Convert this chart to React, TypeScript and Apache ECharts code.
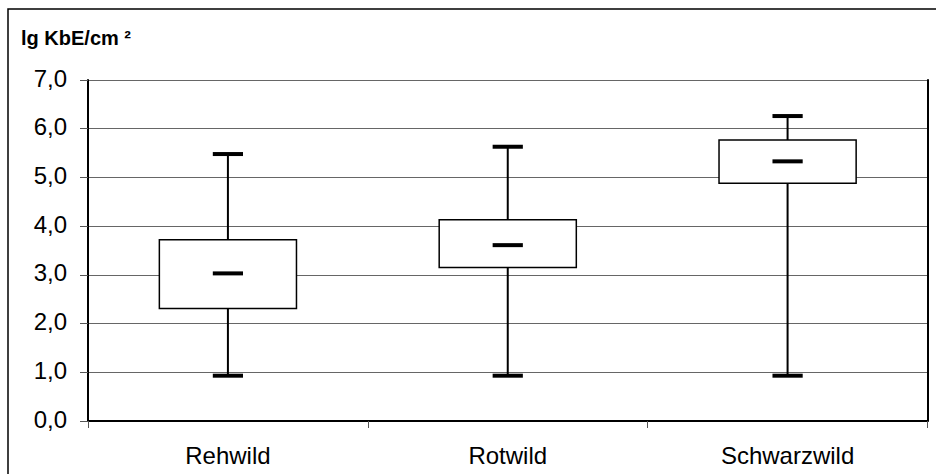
import React, { useEffect, useRef } from "react";
import * as echarts from "echarts";

const categories = ["Rehwild", "Rotwild", "Schwarzwild"];
const minValues = [0.93, 0.93, 0.93];
const q1Values = [2.31, 3.15, 4.88];
const medianValues = [3.03, 3.61, 5.33];
const q3Values = [3.72, 4.13, 5.77];
const maxValues = [5.48, 5.63, 6.26];
const yTicks = [0, 1, 2, 3, 4, 5, 6, 7];
const yAxisTitle = "lg KbE/cm ²";

export default function App() {
  const ref = useRef<HTMLDivElement>(null);
  useEffect(() => {
    document.body.style.margin = "0";
    if (!ref.current) return;
    const chart = echarts.init(ref.current, undefined, { renderer: "svg" });
    const data = categories.map((_, i) => [
      i,
      minValues[i],
      q1Values[i],
      medianValues[i],
      q3Values[i],
      maxValues[i],
    ]);
    const font = "'Liberation Sans', Arial, sans-serif";
    chart.setOption({
      animation: false,
      backgroundColor: "#fff",
      graphic: [
        {
          type: "rect",
          shape: { x: 8, y: 9, width: 1000, height: 1000 },
          style: { fill: "none", stroke: "#000", lineWidth: 1.5 },
          silent: true,
          z: 100,
        },
        {
          type: "text",
          left: 21,
          top: 28,
          style: {
            text: yAxisTitle,
            font: `bold 20px ${font}`,
            fill: "#000",
          },
        },
      ],
      grid: { left: 88, top: 80, right: 8.5, bottom: 53 },
      xAxis: {
        type: "category",
        data: categories,
        axisLine: { show: true, lineStyle: { color: "#000", width: 2 } },
        axisTick: { show: true, alignWithLabel: false, length: 7, lineStyle: { color: "#555", width: 1 } },
        axisLabel: { color: "#000", fontSize: 24, fontFamily: font, margin: 22 },
        splitLine: { show: false },
      },
      yAxis: [
        {
          type: "value",
          min: 0,
          max: 7,
          interval: 1,
          axisLine: { show: true, lineStyle: { color: "#000", width: 2 } },
          axisTick: { show: true, length: 8, lineStyle: { color: "#555", width: 1 } },
          axisLabel: {
            color: "#000",
            fontSize: 24,
            fontFamily: font,
            margin: 21,
            verticalAlign: "bottom",
            lineHeight: 24,
            padding: [0, 0, -10, 0],
            formatter: (v: number) =>
              yTicks.includes(v) ? v.toFixed(1).replace(".", ",") : "",
          },
          splitLine: { show: true, lineStyle: { color: "#666", width: 1 } },
        },
        {
          type: "value",
          position: "right",
          min: 0,
          max: 7,
          interval: 1,
          axisLine: { show: true, lineStyle: { color: "#000", width: 2 } },
          axisTick: { show: false },
          axisLabel: { show: false },
          splitLine: { show: false },
        },
      ],
      series: [
        {
          type: "custom",
          data,
          encode: { x: 0, y: [1, 2, 3, 4, 5] },
          renderItem: (params: any, api: any) => {
            const idx = api.value(0);
            const pMin = api.coord([idx, api.value(1)]);
            const pQ1 = api.coord([idx, api.value(2)]);
            const pMed = api.coord([idx, api.value(3)]);
            const pQ3 = api.coord([idx, api.value(4)]);
            const pMax = api.coord([idx, api.value(5)]);
            const band = api.size([1, 0])[0];
            const bw = band * 0.49;
            const cw = band * 0.108;
            const x = pMed[0];
            return {
              type: "group",
              children: [
                {
                  type: "line",
                  shape: { x1: x, y1: pMax[1], x2: x, y2: pMin[1] },
                  style: { stroke: "#000", lineWidth: 2 },
                },
                {
                  type: "rect",
                  shape: { x: x - bw / 2, y: pQ3[1], width: bw, height: pQ1[1] - pQ3[1] },
                  style: { fill: "#fff", stroke: "#000", lineWidth: 1.5 },
                },
                {
                  type: "line",
                  shape: { x1: x - cw / 2, y1: pMax[1], x2: x + cw / 2, y2: pMax[1] },
                  style: { stroke: "#000", lineWidth: 4 },
                },
                {
                  type: "line",
                  shape: { x1: x - cw / 2, y1: pMin[1], x2: x + cw / 2, y2: pMin[1] },
                  style: { stroke: "#000", lineWidth: 4 },
                },
                {
                  type: "line",
                  shape: { x1: x - cw / 2, y1: pMed[1], x2: x + cw / 2, y2: pMed[1] },
                  style: { stroke: "#000", lineWidth: 4 },
                },
              ],
            };
          },
        },
      ],
    });
    return () => chart.dispose();
  }, []);
  return <div ref={ref} style={{ width: 936, height: 474 }} />;
}
